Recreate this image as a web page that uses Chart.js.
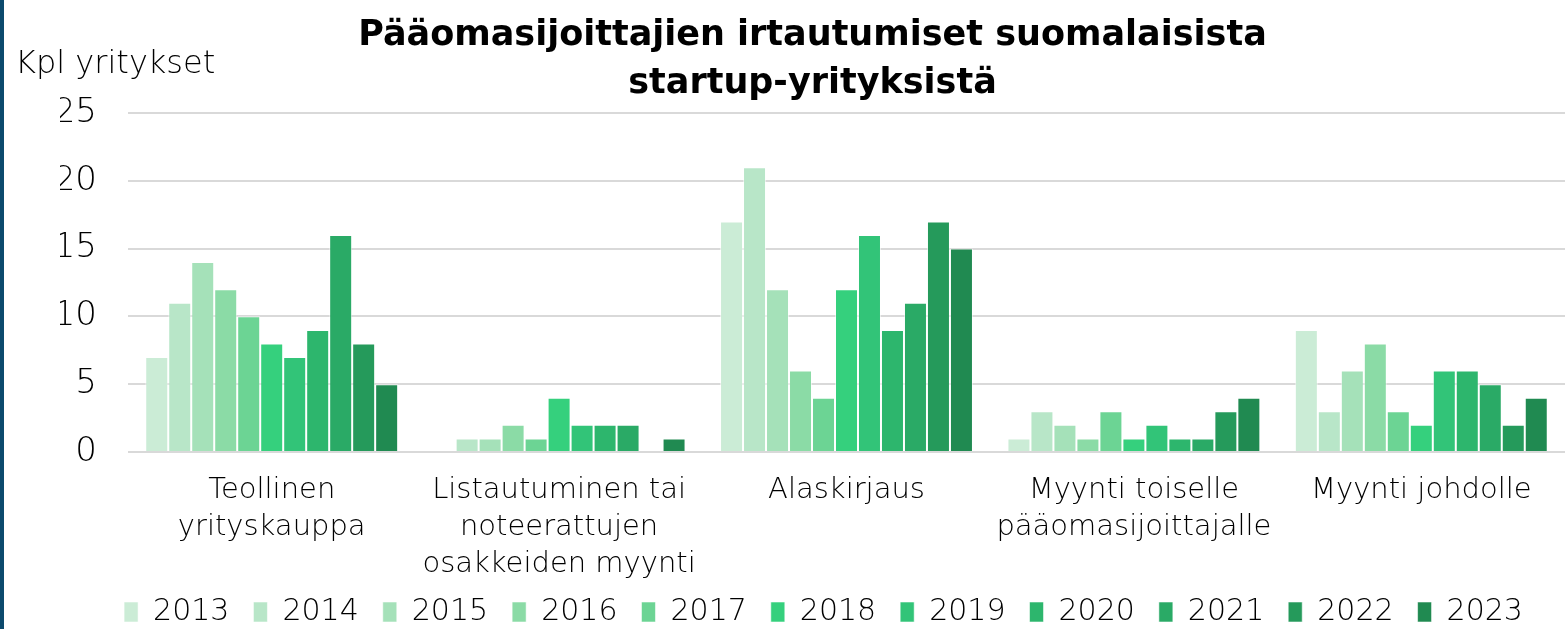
<!DOCTYPE html>
<html>
<head>
<meta charset="utf-8">
<script src="https://cdn.jsdelivr.net/npm/chart.js@4.4.1/dist/chart.umd.min.js"></script>
<style>
  html, body { margin: 0; padding: 0; background: #fff; }
  #wrap { width: 1565px; height: 629px; }
</style>
</head>
<body>
<div id="wrap"><canvas id="chart" width="1565" height="629"></canvas></div>
<script>
// categories (x axis)
const categories = [
  ['Teollinen', 'yrityskauppa'],
  ['Listautuminen tai', 'noteerattujen', 'osakkeiden myynti'],
  ['Alaskirjaus'],
  ['Myynti toiselle', 'pääomasijoittajalle'],
  ['Myynti johdolle']
];

const years = ['2013', '2014', '2015', '2016', '2017', '2018', '2019', '2020', '2021', '2022', '2023'];

// one array per category, values by year 2013..2023
const teollinen = [7, 11, 14, 12, 10, 8, 7, 9, 16, 8, 5];
const listautuminen = [0, 1, 1, 2, 1, 4, 2, 2, 2, 0, 1];
const alaskirjaus = [17, 21, 12, 6, 4, 12, 16, 9, 11, 17, 15];
const myyntiToiselle = [1, 3, 2, 1, 3, 1, 2, 1, 1, 3, 4];
const myyntiJohdolle = [9, 3, 6, 8, 3, 2, 6, 6, 5, 2, 4];

const yTicks = [0, 5, 10, 15, 20, 25];

const colors = ['#cbecd6', '#b8e6c8', '#a5e1b9', '#8bdba6', '#6cd494', '#35d07d',
                '#32c478', '#2db66d', '#2aaa66', '#259a5b', '#208a51'];

const FONT = '"DejaVu Sans", "Noto Sans", sans-serif';

const byCategory = [teollinen, listautuminen, alaskirjaus, myyntiToiselle, myyntiJohdolle];

const datasets = years.map((year, i) => ({
  label: year,
  data: byCategory.map(arr => arr[i]),
  backgroundColor: colors[i],
  borderColor: 'rgba(255,255,255,0.55)',
  borderWidth: 1,
  categoryPercentage: 0.88,
  barPercentage: 1.0
}));

// left stripe, horizontal y-axis title, legend placement tweaks
const decorations = {
  id: 'decorations',
  beforeInit(chart) {
    const legend = chart.legend;
    if (legend) {
      const fit = legend.fit;
      legend.fit = function () {
        fit.call(this);
        this.height -= 8;
      };
    }
  },
  afterLayout(chart) {
    // let the 3-line category labels run down to the legend without clipping
    chart.scales.x.bottom = chart.height;
    const legend = chart.legend;
    legend.left += 11;
    legend.right += 11;
  },
  beforeDraw(chart) {
    const ctx = chart.ctx;
    ctx.save();
    ctx.fillStyle = '#ffffff';
    ctx.fillRect(0, 0, chart.width, chart.height);
    ctx.fillStyle = '#0c4a6d';
    ctx.fillRect(0, 0, 4, chart.height);
    ctx.restore();
  },
  afterDraw(chart) {
    const ctx = chart.ctx;
    ctx.save();
    ctx.font = '200 32px ' + FONT;
    ctx.fillStyle = '#000';
    ctx.textAlign = 'left';
    ctx.textBaseline = 'alphabetic';
    ctx.fillText('Kpl yritykset', 15, 73);
    ctx.restore();
  }
};

new Chart(document.getElementById('chart'), {
  type: 'bar',
  data: { labels: categories, datasets: datasets },
  plugins: [decorations],
  options: {
    responsive: false,
    animation: false,
    layout: { padding: { left: 60, right: 0, top: 0, bottom: 0 } },
    plugins: {
      title: {
        display: true,
        text: ['Pääomasijoittajien irtautumiset suomalaisista', 'startup-yrityksistä'],
        color: '#000',
        font: { family: FONT, size: 35, weight: 'bold', lineHeight: 1.37 },
        padding: { top: 12, bottom: 5 }
      },
      legend: {
        position: 'bottom',
        labels: {
          color: '#000',
          font: { family: FONT, size: 30, weight: '200' },
          boxWidth: 14,
          boxHeight: 20,
          padding: 24
        }
      },
      tooltip: { enabled: false }
    },
    scales: {
      x: {
        grid: { display: false, drawTicks: false },
        border: { display: false },
        afterFit(axis) { axis.height = 121; },
        ticks: {
          color: '#000',
          font: { family: FONT, size: 29, weight: '200', lineHeight: '37px' },
          padding: 20,
          maxRotation: 0,
          autoSkip: false
        }
      },
      y: {
        min: 0,
        max: 25,
        afterBuildTicks(axis) { axis.ticks = yTicks.map(v => ({ value: v })); },
        afterFit(axis) { axis.width = 68; },
        grid: { color: '#d9d9d9', lineWidth: 2, drawTicks: false },
        border: { display: false },
        ticks: {
          color: '#000',
          font: { family: FONT, size: 34, weight: '200' },
          padding: 31
        }
      }
    }
  }
});
</script>
</body>
</html>
